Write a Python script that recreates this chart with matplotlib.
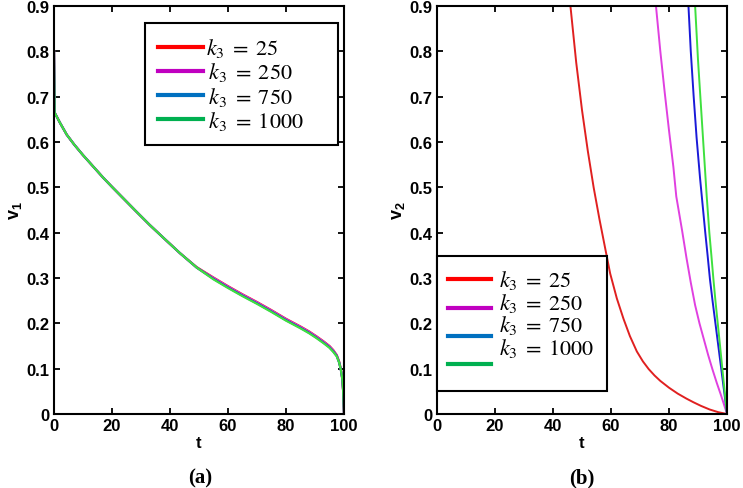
import matplotlib
matplotlib.use("Agg")
import matplotlib.pyplot as plt
from matplotlib.lines import Line2D

plt.rcParams["mathtext.fontset"] = "stix"
plt.rcParams["mathtext.bf"] = "Liberation Sans:bold"
plt.rcParams["mathtext.rm"] = "Liberation Sans:bold"

# panel (a): v1 over t, one series per k3
t_v1 = [0, 0.2, 2, 4.4, 7, 10, 13.5, 17, 20, 24, 28, 33, 38, 43.4, 49.2, 55, 60, 65, 70, 75,
        80, 85, 88, 90.6, 93, 95, 96.3, 97.5, 98.3, 98.9, 99.4, 99.7, 100]
v1_k25 = [0.80, 0.665, 0.643, 0.616, 0.594, 0.571, 0.546, 0.521, 0.501, 0.475, 0.449, 0.417,
          0.387, 0.355, 0.324, 0.301, 0.282, 0.264, 0.247, 0.229, 0.210, 0.193, 0.182, 0.171,
          0.160, 0.150, 0.141, 0.130, 0.116, 0.100, 0.078, 0.052, 0.0]
v1_k250 = [0.80, 0.665, 0.643, 0.616, 0.594, 0.571, 0.546, 0.521, 0.501, 0.475, 0.449, 0.417,
           0.387, 0.355, 0.323, 0.300, 0.281, 0.263, 0.246, 0.228, 0.209, 0.192, 0.181, 0.170,
           0.159, 0.149, 0.140, 0.129, 0.115, 0.099, 0.078, 0.052, 0.0]
v1_k750 = [0.80, 0.665, 0.643, 0.616, 0.594, 0.571, 0.546, 0.521, 0.501, 0.475, 0.449, 0.417,
           0.387, 0.355, 0.323, 0.298, 0.279, 0.261, 0.244, 0.226, 0.207, 0.190, 0.179, 0.168,
           0.157, 0.147, 0.138, 0.128, 0.114, 0.098, 0.078, 0.052, 0.0]
v1_k1000 = [0.80, 0.665, 0.643, 0.616, 0.594, 0.571, 0.546, 0.521, 0.501, 0.475, 0.449, 0.417,
            0.387, 0.355, 0.323, 0.297, 0.278, 0.260, 0.243, 0.225, 0.206, 0.189, 0.178, 0.167,
            0.156, 0.146, 0.137, 0.127, 0.114, 0.098, 0.078, 0.052, 0.0]

# panel (b): v2 over t (values above 0.9 run off the top)
t_v2_k25 = [0, 30, 46, 48, 50, 52, 54, 56, 58, 59.7, 62, 64.3, 66.5, 68.9, 71, 73, 75, 77,
            80, 83, 86, 88.4, 91, 94, 97, 100]
v2_k25 = [10.0, 2.5, 0.90, 0.775, 0.67, 0.58, 0.50, 0.43, 0.365, 0.31, 0.255, 0.21, 0.172,
          0.138, 0.116, 0.099, 0.085, 0.073, 0.058, 0.045, 0.034, 0.026, 0.018, 0.010, 0.004, 0.0]
t_v2_k250 = [0, 70, 75.5, 77, 78.5, 80, 81.5, 82.5, 84.5, 86, 87.5, 89, 90.5, 92, 93.5, 95,
             96.5, 98, 99, 100]
v2_k250 = [10.0, 1.3, 0.90, 0.80, 0.71, 0.625, 0.545, 0.48, 0.405, 0.345, 0.29, 0.24, 0.20,
           0.165, 0.13, 0.098, 0.068, 0.04, 0.02, 0.0]
t_v2_k750 = [0, 84, 86.7, 87.5, 88.5, 89.5, 90.7, 91.6, 92.5, 93.3, 94.1, 95, 96, 97, 98, 99, 100]
v2_k750 = [10.0, 1.1, 0.90, 0.80, 0.70, 0.61, 0.52, 0.46, 0.40, 0.35, 0.298, 0.25, 0.20, 0.15,
           0.10, 0.05, 0.0]
t_v2_k1000 = [0, 87, 89, 90, 91, 92.4, 93, 93.9, 94.6, 95.3, 96, 96.8, 97.6, 98.3, 99.1, 100]
v2_k1000 = [10.0, 1.1, 0.90, 0.78, 0.68, 0.54, 0.48, 0.40, 0.35, 0.298, 0.25, 0.20, 0.15, 0.105,
            0.055, 0.0]

k3_labels = [r"$k_3\;=\;25$", r"$\,k_3\;=\;250$", r"$\,k_3\;=\;750$", r"$\,k_3\;=\;1000$"]
k3_labels_b = [r"$k_3\;=\;25$", r"$k_3\;=\;250$", r"$k_3\;=\;750$", r"$k_3\;=\;1000$", ""]
line_colors = ["#e02020", "#e040e0", "#1a1ad8", "#3ee03e"]
legend_colors = ["#ff0000", "#c000c0", "#0070c0", "#00b050"]

x_ticks = [0, 20, 40, 60, 80, 100]
y_ticks = [0, 0.1, 0.2, 0.3, 0.4, 0.5, 0.6, 0.7, 0.8, 0.9]

fig = plt.figure(figsize=(7.43, 4.89), dpi=100)
ax1 = fig.add_axes([0.0727, 0.1513, 0.3903, 0.8344])
ax2 = fig.add_axes([0.5882, 0.1513, 0.3903, 0.8344])

for v, c in zip([v1_k25, v1_k250, v1_k750, v1_k1000], line_colors):
    ax1.plot(t_v1, v, color=c, lw=1.6)

v2_sets = [(t_v2_k25, v2_k25), (t_v2_k250, v2_k250), (t_v2_k750, v2_k750), (t_v2_k1000, v2_k1000)]
for (tt, v), c in zip(v2_sets, line_colors):
    ax2.plot(tt, v, color=c, lw=1.4)

tick_font = {"family": ["Liberation Sans", "DejaVu Sans"], "weight": "bold", "size": 12}
for ax, ylab in [(ax1, r"$\mathbf{v_1}$"), (ax2, r"$\mathbf{v_2}$")]:
    ax.set_xlim(0, 100)
    ax.set_ylim(0, 0.9)
    ax.set_xticks(x_ticks)
    ax.set_yticks(y_ticks)
    ax.set_xticklabels([str(x) for x in x_ticks], fontdict=tick_font)
    ax.set_yticklabels(["0"] + [f"{y:.1f}" for y in y_ticks[1:]], fontdict=tick_font)
    ax.tick_params(direction="in", length=4, width=1.3, top=True, right=True, pad=3)
    for sp in ax.spines.values():
        sp.set_linewidth(1.5)
    ax.set_xlabel("t", fontdict=tick_font, labelpad=1)
    ax.set_ylabel(ylab, fontsize=13, labelpad=2, math_fontfamily="custom")

handles = [Line2D([], [], color=c, lw=3) for c in legend_colors]
leg1 = ax1.legend(handles, k3_labels, loc="upper left", mode="expand",
                  bbox_to_anchor=(91 / 290, 0, 193 / 290, 391 / 408),
                  fontsize=16, handlelength=2.0, handletextpad=0.15, labelspacing=0.05,
                  borderpad=0.6, borderaxespad=0, fancybox=False, framealpha=1, edgecolor="black")
leg1.get_frame().set_linewidth(1.5)

# right legend: labels sit above their line samples, so texts and lines are two legends
blank = [Line2D([], [], color="none") for _ in k3_labels_b]
leg2 = ax2.legend(blank, k3_labels_b, loc="upper left", mode="expand",
                  bbox_to_anchor=(0.0, 0, 170 / 290, 158 / 408),
                  fontsize=16, handlelength=2.25, handletextpad=0.0, labelspacing=-0.02,
                  borderpad=0.55, borderaxespad=0, fancybox=False, framealpha=1, edgecolor="black")
leg2.get_frame().set_linewidth(1.5)
ax2.add_artist(leg2)
leg3 = ax2.legend(handles, ["", "", "", ""], loc="upper left", bbox_to_anchor=(0.037, 0.35),
                  fontsize=16, handlelength=1.95, handletextpad=0.0, labelspacing=0.37,
                  borderpad=0.0, borderaxespad=0, frameon=False)

cap_font = {"family": ["Liberation Serif", "DejaVu Serif"], "weight": "bold", "size": 15}
fig.text(200 / 743, 1 - 478 / 489, "(a)", ha="center", va="center", fontdict=cap_font)
fig.text(582 / 743, 1 - 478 / 489, "(b)", ha="center", va="center", fontdict=cap_font)

fig.savefig("out.png", dpi=100)
